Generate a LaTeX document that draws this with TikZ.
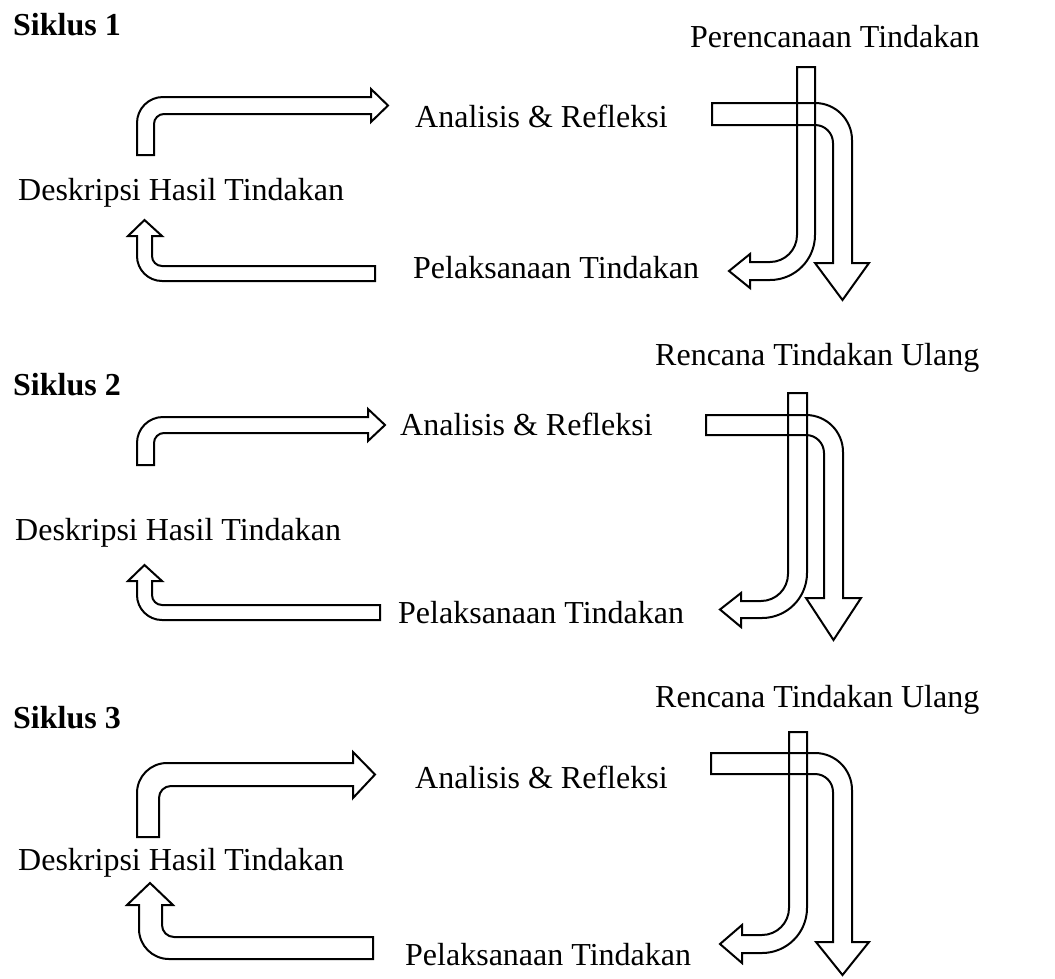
\documentclass[tikz,border=0pt]{standalone}
\usepackage{fontspec}
\setmainfont{Liberation Serif}
\begin{document}
\begin{tikzpicture}[x=1pt,y=-1pt,
  blk/.style={draw=black,line width=2pt,line join=miter},
  lbl/.style={anchor=base west,inner sep=0pt,font=\fontsize{32}{38}\selectfont},
  ttl/.style={anchor=base west,inner sep=0pt,font=\fontsize{32}{38}\selectfont\bfseries}]
\useasboundingbox (0,0) rectangle (1055,978);
% ---------------- Siklus 1
\node[ttl] (s1) at (13,35) {Siklus 1};
\node[lbl] (p1) at (690,47) {Perencanaan Tindakan};
\node[lbl] (a1) at (415,127) {Analisis \& Refleksi};
\node[lbl] (d1) at (18,200) {Deskripsi Hasil Tindakan};
\node[lbl] (l1) at (413,278) {Pelaksanaan Tindakan};
\draw[blk] (137,155) -- (137,123) arc[start angle=180,end angle=270,radius=26] -- (371,97) -- (371,89) -- (388,105.5) -- (371,122) -- (371,114) -- (164,114) arc[start angle=270,end angle=180,radius=10] -- (154,155) -- cycle;
\draw[blk] (375,266) -- (162,266) arc[start angle=90,end angle=180,radius=10] -- (152,236) -- (162,236) -- (144.5,220) -- (128,236) -- (137,236) -- (137,256) arc[start angle=180,end angle=90,radius=25] -- (375,281) -- cycle;
\draw[blk] (797,67) -- (815,67) -- (815,235) arc[start angle=0,end angle=90,radius=45] -- (750,280) -- (750,288) -- (729,271) -- (750,254) -- (750,262) -- (770,262) arc[start angle=90,end angle=0,radius=27] -- cycle;
\draw[blk] (712,103) -- (815,103) arc[start angle=270,end angle=360,radius=37] -- (852,263) -- (869,263) -- (842.5,300) -- (815,263) -- (833,263) -- (833,143) arc[start angle=0,end angle=-90,radius=18] -- (712,125) -- cycle;
% ---------------- Siklus 2
\node[ttl] (s2) at (13,395) {Siklus 2};
\node[lbl] (p2) at (655,365) {Rencana Tindakan Ulang};
\node[lbl] (a2) at (400,435) {Analisis \& Refleksi};
\node[lbl] (d2) at (15,540) {Deskripsi Hasil Tindakan};
\node[lbl] (l2) at (398,623) {Pelaksanaan Tindakan};
\draw[blk] (137,465) -- (137,443) arc[start angle=180,end angle=270,radius=26] -- (368,417) -- (368,409) -- (385,425) -- (368,441) -- (368,433) -- (164,433) arc[start angle=270,end angle=180,radius=10] -- (154,465) -- cycle;
\draw[blk] (380,605) -- (162,605) arc[start angle=90,end angle=180,radius=10] -- (152,581) -- (162,581) -- (144.5,565) -- (128,581) -- (137,581) -- (137,595) arc[start angle=180,end angle=90,radius=25] -- (380,620) -- cycle;
\draw[blk] (788,393) -- (807,393) -- (807,573) arc[start angle=0,end angle=90,radius=45] -- (741,618) -- (741,627) -- (720,609.5) -- (741,593) -- (741,601) -- (761,601) arc[start angle=90,end angle=0,radius=27] -- cycle;
\draw[blk] (706,415) -- (806,415) arc[start angle=270,end angle=360,radius=37] -- (843,598) -- (861,598) -- (833.5,640) -- (806,598) -- (824,598) -- (824,453) arc[start angle=0,end angle=-90,radius=18] -- (706,435) -- cycle;
% ---------------- Siklus 3
\node[ttl] (s3) at (13,728) {Siklus 3};
\node[lbl] (p3) at (655,707) {Rencana Tindakan Ulang};
\node[lbl] (a3) at (415,788) {Analisis \& Refleksi};
\node[lbl] (d3) at (18,870) {Deskripsi Hasil Tindakan};
\node[lbl] (l3) at (405,965) {Pelaksanaan Tindakan};
\draw[blk] (137,837) -- (137,793) arc[start angle=180,end angle=270,radius=30] -- (353,763) -- (353,752) -- (375,774.5) -- (353,798) -- (353,786) -- (171,786) arc[start angle=270,end angle=180,radius=12] -- (159,837) -- cycle;
\draw[blk] (373,937) -- (174,937) arc[start angle=90,end angle=180,radius=12] -- (162,905) -- (173,905) -- (150,883) -- (127,905) -- (139,905) -- (139,929) arc[start angle=180,end angle=90,radius=30] -- (373,959) -- cycle;
\draw[blk] (789,732) -- (807,732) -- (807,908) arc[start angle=0,end angle=90,radius=45] -- (742,953) -- (742,963) -- (720,944) -- (742,925) -- (742,935) -- (762,935) arc[start angle=90,end angle=0,radius=27] -- cycle;
\draw[blk] (711,753) -- (815,753) arc[start angle=270,end angle=360,radius=37] -- (852,942) -- (869,942) -- (842.5,975) -- (816,942) -- (833,942) -- (833,792) arc[start angle=0,end angle=-90,radius=18] -- (711,774) -- cycle;
\end{tikzpicture}
\end{document}
